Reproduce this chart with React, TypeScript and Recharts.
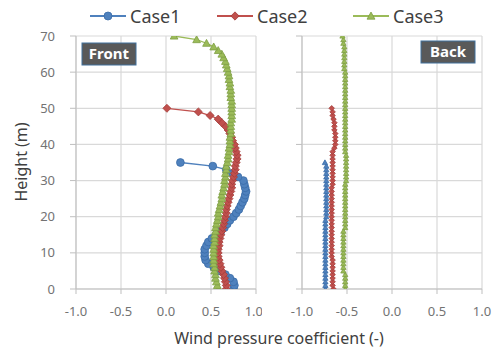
import React from 'react';
import { ScatterChart, Scatter, XAxis, YAxis, CartesianGrid } from 'recharts';

const heights = [
  0, 1, 2, 3, 4, 5, 6, 7, 8, 9, 10, 11, 12, 13, 14, 15, 16, 17, 18, 19, 20,
  21, 22, 23, 24, 25, 26, 27, 28, 29, 30, 31, 32, 33, 34, 35, 36, 37, 38, 39, 40,
  41, 42, 43, 44, 45, 46, 47, 48, 49, 50, 51, 52, 53, 54, 55, 56, 57, 58, 59, 60,
  61, 62, 63, 64, 65, 66, 67, 68, 69, 70,
];

const seriesNames = ['Case1', 'Case2', 'Case3'];
const xTicks = [-1, -0.5, 0, 0.5, 1];
const yTicks = [0, 10, 20, 30, 40, 50, 60, 70];
const panelNames = ['Front', 'Back'];
const xLabel = 'Wind pressure coefficient (-)';
const yLabel = 'Height (m)';

// Front (windward) profiles, index = height in m
const case1Front = [
  0.75, 0.76, 0.75, 0.71, 0.66, 0.6, 0.53, 0.47, 0.44, 0.43, 0.43, 0.43, 0.45,
  0.47, 0.51, 0.56, 0.61, 0.65, 0.68, 0.71, 0.75, 0.78, 0.81, 0.83, 0.85, 0.87,
  0.88, 0.89, 0.88, 0.87, 0.86, 0.8, 0.74, 0.67, 0.52, 0.16,
];
const case2Front = [
  0.67, 0.67, 0.66, 0.65, 0.64, 0.62, 0.61, 0.6, 0.59, 0.58, 0.58, 0.58, 0.59,
  0.59, 0.6, 0.61, 0.62, 0.63, 0.64, 0.65, 0.66, 0.67, 0.67, 0.68, 0.69, 0.7,
  0.71, 0.72, 0.73, 0.73, 0.74, 0.75, 0.76, 0.77, 0.77, 0.78, 0.79, 0.79, 0.78,
  0.77, 0.76, 0.74, 0.73, 0.71, 0.69, 0.66, 0.62, 0.58, 0.49, 0.36, 0.01,
];
const case3Front = [
  0.58, 0.57, 0.56, 0.55, 0.55, 0.54, 0.54, 0.53, 0.53, 0.53, 0.53, 0.53, 0.53,
  0.54, 0.54, 0.54, 0.55, 0.55, 0.56, 0.57, 0.58, 0.58, 0.59, 0.6, 0.61, 0.62,
  0.62, 0.63, 0.64, 0.65, 0.65, 0.66, 0.66, 0.67, 0.67, 0.68, 0.69, 0.69, 0.7,
  0.7, 0.71, 0.71, 0.71, 0.72, 0.72, 0.72, 0.72, 0.73, 0.73, 0.73, 0.73, 0.73,
  0.73, 0.72, 0.72, 0.72, 0.71, 0.71, 0.7, 0.7, 0.69, 0.68, 0.67, 0.66, 0.64,
  0.62, 0.58, 0.53, 0.45, 0.34, 0.09,
];

// Back (leeward) profiles
const case1Back = [
  -0.74, -0.74, -0.74, -0.74, -0.74, -0.74, -0.74, -0.74, -0.74, -0.74, -0.74,
  -0.74, -0.74, -0.74, -0.74, -0.74, -0.74, -0.74, -0.74, -0.74, -0.73, -0.73,
  -0.73, -0.73, -0.73, -0.73, -0.73, -0.73, -0.73, -0.73, -0.73, -0.73, -0.73,
  -0.73, -0.73, -0.745,
];
const case2Back = [
  -0.65, -0.66, -0.66, -0.66, -0.66, -0.66, -0.66, -0.66, -0.66, -0.67, -0.67,
  -0.67, -0.67, -0.67, -0.67, -0.67, -0.67, -0.67, -0.67, -0.67, -0.67, -0.67,
  -0.67, -0.67, -0.67, -0.67, -0.67, -0.67, -0.67, -0.66, -0.66, -0.66, -0.66,
  -0.66, -0.66, -0.66, -0.66, -0.66, -0.66, -0.64, -0.63, -0.63, -0.63, -0.63,
  -0.64, -0.64, -0.64, -0.65, -0.66, -0.66, -0.67,
];
const case3Back = [
  -0.52, -0.52, -0.52, -0.52, -0.52, -0.54, -0.54, -0.54, -0.54, -0.54, -0.54,
  -0.54, -0.54, -0.54, -0.54, -0.54, -0.54, -0.52, -0.52, -0.52, -0.52, -0.52,
  -0.52, -0.52, -0.52, -0.52, -0.52, -0.52, -0.52, -0.52, -0.51, -0.51, -0.51,
  -0.51, -0.51, -0.51, -0.51, -0.51, -0.52, -0.52, -0.52, -0.52, -0.52, -0.52,
  -0.52, -0.52, -0.52, -0.52, -0.52, -0.52, -0.52, -0.52, -0.52, -0.52, -0.52,
  -0.52, -0.52, -0.52, -0.52, -0.52, -0.52, -0.53, -0.53, -0.53, -0.53, -0.53,
  -0.53, -0.53, -0.54, -0.54, -0.55,
];

const COLORS = ['#4F81BD', '#C0504D', '#9BBB59'];
const STROKES = ['#3A6CA8', '#A33E3B', '#7E9E43'];

const toPoints = (values: number[]) => values.map((v, i) => ({ x: v, y: heights[i] }));

const FONT = '"Noto Sans", "Open Sans", sans-serif';
const GRID = '#d9d9d9';
const AXIS = '#bfbfbf';

type ShapeKind = 'circle' | 'diamond' | 'triangle';

const makeShape = (kind: ShapeKind, fill: string, stroke: string, s: number) => (props: any) => {
  const { cx, cy } = props;
  if (cx == null || cy == null) return <g />;
  if (kind === 'circle') {
    return <circle cx={cx} cy={cy} r={s} fill={fill} stroke={stroke} strokeWidth={0.8} />;
  }
  if (kind === 'diamond') {
    const d = s * 1.15;
    return (
      <polygon
        points={`${cx},${cy - d} ${cx + d},${cy} ${cx},${cy + d} ${cx - d},${cy}`}
        fill={fill}
        stroke={stroke}
        strokeWidth={0.8}
      />
    );
  }
  const h = s * 1.1;
  return (
    <polygon
      points={`${cx},${cy - h} ${cx + h},${cy + h * 0.8} ${cx - h},${cy + h * 0.8}`}
      fill={fill}
      stroke={stroke}
      strokeWidth={0.8}
    />
  );
};

const frontShapes = [
  makeShape('circle', COLORS[0], STROKES[0], 3.9),
  makeShape('diamond', COLORS[1], STROKES[1], 3.5),
  makeShape('triangle', COLORS[2], STROKES[2], 3.5),
];
const backShapes = [
  makeShape('triangle', COLORS[0], STROKES[0], 2.4),
  makeShape('diamond', COLORS[1], STROKES[1], 2.4),
  makeShape('triangle', COLORS[2], STROKES[2], 2.4),
];

const tickStyle = { fill: '#737373', fontSize: 13, fontFamily: FONT };

function Panel({
  data,
  shapes,
  width,
  margin,
  yWidth,
  showYLabels,
}: {
  data: { x: number; y: number }[][];
  shapes: any[];
  width: number;
  margin: { top: number; right: number; bottom: number; left: number };
  yWidth: number;
  showYLabels: boolean;
}) {
  return (
    <ScatterChart width={width} height={348} margin={margin}>
      <CartesianGrid stroke={GRID} strokeWidth={1.2} />
      <XAxis
        type="number"
        dataKey="x"
        domain={[-1, 1]}
        ticks={xTicks}
        allowDataOverflow
        tickFormatter={(v: number) => v.toFixed(1)}
        tick={tickStyle}
        tickSize={5}
        tickMargin={13}
        height={30}
        stroke={AXIS}
        tickLine={{ stroke: AXIS }}
      />
      <YAxis
        type="number"
        dataKey="y"
        domain={[0, 70]}
        ticks={yTicks}
        allowDataOverflow
        tick={tickStyle}
        tickFormatter={(v: number) => (showYLabels ? String(v) : '')}
        tickSize={6}
        tickMargin={15}
        width={yWidth}
        stroke={AXIS}
        tickLine={{ stroke: AXIS }}
      />
      {data.map((pts, i) => (
        <Scatter
          key={seriesNames[i]}
          name={seriesNames[i]}
          data={pts}
          fill={COLORS[i]}
          line={{ stroke: COLORS[i], strokeWidth: 1.3 }}
          lineJointType="linear"
          shape={shapes[i]}
          isAnimationActive={false}
        />
      ))}
    </ScatterChart>
  );
}

export default function App() {
  const frontData = [toPoints(case1Front), toPoints(case2Front), toPoints(case3Front)];
  const backData = [toPoints(case1Back), toPoints(case2Back), toPoints(case3Back)];
  const legendX = [90, 217, 353];
  const legendShapes: ShapeKind[] = ['circle', 'diamond', 'triangle'];
  return (
    <div style={{ position: 'absolute', left: 0, top: 0, width: 497, height: 348, background: '#fff', fontFamily: FONT }}>
      <div style={{ position: 'absolute', left: 0, top: 0 }}>
        <Panel
          data={frontData}
          shapes={frontShapes}
          width={262}
          margin={{ top: 36, right: 6, bottom: 29, left: 16 }}
          yWidth={60}
          showYLabels
        />
      </div>
      <div style={{ position: 'absolute', left: 262, top: 0 }}>
        <Panel
          data={backData}
          shapes={backShapes}
          width={235}
          margin={{ top: 36, right: 15, bottom: 29, left: 10 }}
          yWidth={30}
          showYLabels={false}
        />
      </div>
      <svg width={497} height={348} style={{ position: 'absolute', left: 0, top: 0, pointerEvents: 'none' }}>
        {seriesNames.map((name, i) => {
          const x0 = legendX[i];
          const shape = makeShape(legendShapes[i], COLORS[i], STROKES[i], legendShapes[i] === 'circle' ? 4 : 3.6);
          return (
            <g key={name}>
              <line x1={x0} y1={16} x2={x0 + 36} y2={16} stroke={COLORS[i]} strokeWidth={1.8} />
              {shape({ cx: x0 + 18, cy: 16 })}
              <text x={x0 + 40} y={22.5} fontSize={18} fill="#404040" fontFamily={FONT}>
                {name}
              </text>
            </g>
          );
        })}
        <rect x={82} y={43} width={54} height={22} fill="#595959" stroke="#41719C" strokeWidth={1} />
        <text x={109} y={59} textAnchor="middle" fontSize={15} fontWeight="bold" fill="#fff" fontFamily={FONT}>
          {panelNames[0]}
        </text>
        <rect x={421} y={41} width={54} height={22} fill="#595959" stroke="#41719C" strokeWidth={1} />
        <text x={448} y={57} textAnchor="middle" fontSize={15} fontWeight="bold" fill="#fff" fontFamily={FONT}>
          {panelNames[1]}
        </text>
        <text x={279} y={344} textAnchor="middle" fontSize={16} fill="#404040" fontFamily={FONT}>
          {xLabel}
        </text>
        <text
          x={0}
          y={0}
          transform="translate(27,162) rotate(-90)"
          textAnchor="middle"
          fontSize={16}
          fill="#404040"
          fontFamily={FONT}
        >
          {yLabel}
        </text>
      </svg>
    </div>
  );
}
